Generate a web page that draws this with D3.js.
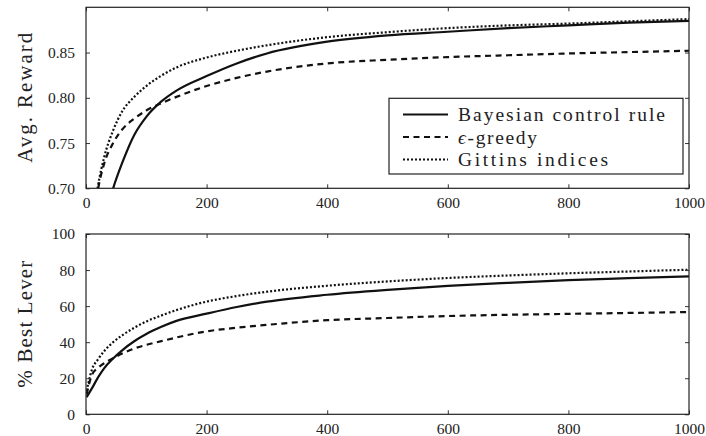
<!DOCTYPE html>
<html>
<head>
<meta charset="utf-8">
<script src="https://cdn.jsdelivr.net/npm/d3@7"></script>
</head>
<body style="margin:0; background:#fff">
<svg id="chart" width="706" height="436" style="font-family: 'Liberation Serif', serif"></svg>
<script>
// time steps shared by every series
var steps = [1, 10, 20, 30, 45, 60, 80, 100, 125, 150, 200, 250, 300, 400, 500, 600, 700, 800, 900, 1000];

// top panel: average reward
var rewardBayes   = [0.50, 0.58, 0.63, 0.665, 0.700, 0.728, 0.759, 0.779, 0.796, 0.808, 0.824, 0.838, 0.849, 0.862, 0.869, 0.873, 0.877, 0.880, 0.883, 0.885];
var rewardEGreedy = [0.55, 0.65, 0.699, 0.727, 0.750, 0.765, 0.777, 0.786, 0.794, 0.801, 0.813, 0.822, 0.829, 0.838, 0.842, 0.845, 0.847, 0.849, 0.8505, 0.852];
var rewardGittins = [0.55, 0.655, 0.703, 0.734, 0.764, 0.785, 0.801, 0.813, 0.8245, 0.8335, 0.8445, 0.852, 0.858, 0.867, 0.8725, 0.877, 0.880, 0.882, 0.8845, 0.887];

// bottom panel: % best lever
var leverBayes   = [9.5, 14.5, 20.5, 25.5, 31.0, 35.5, 40.5, 44.5, 48.5, 51.8, 55.8, 59.5, 62.5, 66.3, 69.0, 71.2, 72.9, 74.4, 75.5, 76.5];
var leverEGreedy = [11, 22, 25.8, 28.3, 31.1, 33.7, 36.5, 38.5, 40.6, 42.6, 46.0, 48.0, 49.6, 52.2, 53.4, 54.5, 55.2, 55.7, 56.2, 56.7];
var leverGittins = [13, 25, 30.5, 35, 40, 43.8, 48, 51.5, 54.8, 57.8, 62.5, 65.6, 68.0, 71.3, 73.7, 75.6, 77.0, 78.2, 79.2, 80.2];

var xTicks = [0, 200, 400, 600, 800, 1000];
var rewardTicks = [0.70, 0.75, 0.80, 0.85];
var leverTicks = [0, 20, 40, 60, 80, 100];

var legendNames = ["Bayesian control rule", "-greedy", "Gittins indices"];
var legendWidths = [207, 79, 150];
var dashes = [null, "6,4.5", "2,2"];

var serif = "Liberation Serif";
var svg = d3.select("#chart");
var left = 86, right = 689;

var xScale = d3.scaleLinear().domain([0, 1000]).range([left, right]);

function drawPanel(id, top, bottom, yDomain, yTicks, yFormat, series, label, labelLen) {
  var yScale = d3.scaleLinear().domain(yDomain).range([bottom, top]);
  var g = svg.append("g");

  svg.append("clipPath").attr("id", "clip_" + id)
    .append("rect")
    .attr("x", left).attr("y", top)
    .attr("width", right - left).attr("height", bottom - top);

  var line = d3.line()
    .x(function (d) { return xScale(d[0]); })
    .y(function (d) { return yScale(d[1]); })
    .curve(d3.curveMonotoneX);

  series.forEach(function (vals, i) {
    g.append("path")
      .datum(steps.map(function (t, j) { return [t, vals[j]]; }))
      .attr("clip-path", "url(#clip_" + id + ")")
      .attr("d", line)
      .attr("fill", "none")
      .attr("stroke", "#111")
      .attr("stroke-width", 2.2)
      .attr("stroke-dasharray", dashes[i]);
  });

  // inward ticks on all four sides
  var bottomAxis = g.append("g")
    .attr("transform", "translate(0," + bottom + ")")
    .call(d3.axisBottom(xScale).tickValues(xTicks).tickSize(-4).tickSizeOuter(0).tickPadding(8.5).tickFormat(d3.format("d")));
  var topAxis = g.append("g")
    .attr("transform", "translate(0," + top + ")")
    .call(d3.axisTop(xScale).tickValues(xTicks).tickSize(-4).tickSizeOuter(0).tickFormat(""));
  var leftAxis = g.append("g")
    .attr("transform", "translate(" + left + ",0)")
    .call(d3.axisLeft(yScale).tickValues(yTicks).tickSize(-4).tickSizeOuter(0).tickPadding(11).tickFormat(yFormat));
  var rightAxis = g.append("g")
    .attr("transform", "translate(" + right + ",0)")
    .call(d3.axisRight(yScale).tickValues(yTicks).tickSize(-4).tickSizeOuter(0).tickFormat(""));

  [bottomAxis, topAxis, leftAxis, rightAxis].forEach(function (a) {
    a.attr("font-family", serif).attr("font-size", 15.5);
    a.select(".domain").remove();
    a.selectAll("line").attr("stroke", "#333");
    a.selectAll("text")
      .attr("fill", "#222")
      .attr("font-family", serif)
      .attr("font-size", 15.5);
  });

  g.append("rect")
    .attr("x", left).attr("y", top)
    .attr("width", right - left).attr("height", bottom - top)
    .attr("fill", "none")
    .attr("stroke", "#222")
    .attr("stroke-width", 1.2);

  g.append("text")
    .attr("transform", "translate(32," + (top + bottom) / 2 + ") rotate(-90)")
    .attr("text-anchor", "middle")
    .attr("textLength", labelLen)
    .attr("lengthAdjust", "spacing")
    .attr("font-family", serif)
    .attr("font-size", 21)
    .attr("fill", "#222")
    .text(label);

  return yScale;
}

drawPanel("reward", 7.3, 188.3, [0.70, 0.90], rewardTicks, d3.format(".2f"),
  [rewardBayes, rewardEGreedy, rewardGittins], "Avg.  Reward", 130);
drawPanel("lever", 234, 414.3, [0, 100], leverTicks, d3.format("d"),
  [leverBayes, leverEGreedy, leverGittins], "% Best Lever", 127);

// legend
var legend = svg.append("g");
legend.append("rect")
  .attr("x", 389).attr("y", 98.3)
  .attr("width", 294).attr("height", 75.7)
  .attr("fill", "#fff")
  .attr("stroke", "#222")
  .attr("stroke-width", 1.2);

legendNames.forEach(function (name, i) {
  var y = 114.5 + i * 22.5;
  legend.append("line")
    .attr("x1", 403).attr("x2", 448)
    .attr("y1", y).attr("y2", y)
    .attr("stroke", "#111")
    .attr("stroke-width", 2.2)
    .attr("stroke-dasharray", dashes[i]);
  var t = legend.append("text")
    .attr("x", 458).attr("y", y + 6.5)
    .attr("font-family", serif)
    .attr("font-size", 19.5)
    .attr("fill", "#222")
    .attr("textLength", legendWidths[i])
    .attr("lengthAdjust", "spacing");
  if (i === 1) {
    t.append("tspan").attr("font-style", "italic").text("\u03f5");
    t.append("tspan").text(name);
  } else {
    t.text(name);
  }
});
</script>
</body>
</html>
